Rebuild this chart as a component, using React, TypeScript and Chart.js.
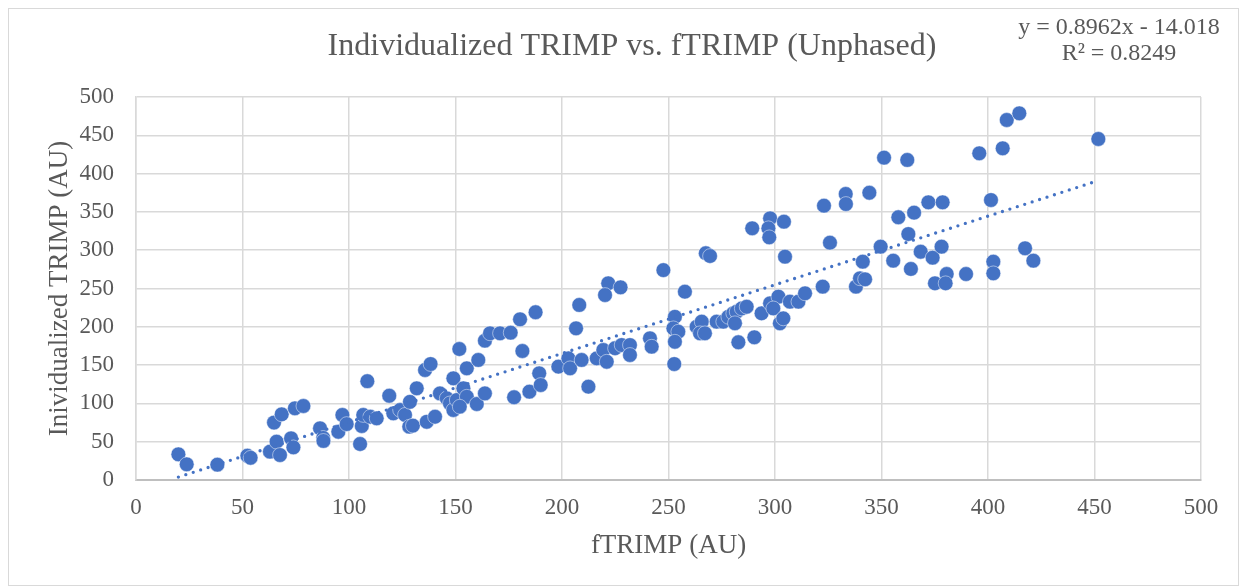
import React, { useEffect, useRef } from 'react';
import { Chart, registerables } from 'chart.js';

Chart.register(...registerables);

const chartTitle = 'Individualized TRIMP vs. fTRIMP (Unphased)';
const xAxisTitle = 'fTRIMP (AU)';
const yAxisTitle = 'Inividualized TRIMP (AU)';
const trendEquation = 'y = 0.8962x - 14.018';
const trendRSquared = 'R² = 0.8249';
const trendSlope = 0.8962;
const trendIntercept = -14.018;

const axisMin = 0;
const axisMax = 500;
const axisStep = 50;

const fTrimp = [
  19.9, 23.8, 38.2, 52.3, 53.8, 62.9, 64.8, 66, 67.6, 68.4, 72.8, 73.9, 74.6, 78.6, 86.4, 87.9, 88, 95, 96.9, 98.9,
  105.2, 106, 106.7, 108.6, 110, 113,
  118.9, 120.8, 124, 126.3, 128.6, 131.8, 128.3, 130, 136.5, 140.4, 135.7, 138.3, 142.7, 145.9, 149, 151.8, 147.4,
  149, 150.6, 153.7, 155.3, 152, 155.3, 160.7, 160, 163.8, 163.8, 166.2, 170.9, 175.9, 180.3, 187.6, 181.4, 177.5,
  184.7, 189.3, 190, 198.3, 203, 203.8, 206.6, 208.1, 212.4, 209.2, 216.3, 219.4, 221, 221.7, 220.2,
  224.9, 228, 231.9, 231.9, 227.5, 241.3, 242.1, 247.6, 257.7, 253, 252.3, 254.6, 253, 252.7, 263.2, 265.6, 264.8,
  267.1, 267.5, 269.5, 272.6, 275.7, 278.1, 280.4, 282, 284.4, 286.7, 281.2, 282.8, 290.3, 293.7, 297.7, 301.6,
  299.2, 302.3, 303.9, 307, 311, 314.1, 289.3, 297.7, 296.9, 297.3, 304.2, 304.7,
  322.4, 323, 325.8, 333.2, 333.3, 344.3, 351.2, 362.1, 338, 339.9, 342.3, 341.2, 349.6, 355.5, 357.9, 362.6, 363.8,
  365.3, 368.4, 372, 374, 378.7, 378.2, 375.1, 380.6, 380.1, 389.7, 395.9, 406.9, 408.8, 414.7, 401.4, 402.5, 402.5,
  417.4, 421.3, 451.8,
];

const individualizedTrimp = [
  33.5, 20.5, 20, 31.7, 29, 37, 75, 50, 32.6, 85.7, 54.4, 42.6, 93.6, 96.6, 67.5, 55, 51, 63, 84.9, 73,
  47, 70.5, 84.9, 129, 82.6, 80.5,
  110, 87, 91.4, 85, 102, 119.7, 69.6, 71, 76, 82.6, 143.6, 151.4, 113, 106.6, 132.7, 171, 100,
  91.4, 104.4, 119.7, 108.7, 95.7, 145.8, 156.7, 99.2, 113, 181.9, 191.5, 191.5, 192.3, 209.8, 219, 168.4, 108,
  115.3, 139.3, 124, 148, 158.8, 145.8, 198, 228.5, 121.8, 156.7, 158.8, 169.7, 154.4, 256.8, 241.5,
  172, 176.2, 176.2, 163.2, 251.5, 185, 174, 274, 245.8, 213, 198, 193.6, 180.5, 151.4, 200, 206.7, 191.5,
  191.5, 296, 292.4, 206.7, 206.7, 213, 217.6, 219.7, 224, 226.2, 204.6, 179.8, 186.3, 217.6, 230.7, 239.3,
  224, 204.6, 211, 232.8, 232.8, 243.7, 328.6, 341.6, 328.6, 316.8, 337.2, 291.5,
  252.4, 358.1, 309.8, 373.4, 360.3, 375, 420.8, 417.8, 252.4, 263.3, 262, 285, 304.6, 286.3, 343, 321.1, 275.5,
  349, 298, 362.5, 290.2, 362.5, 304.6, 256.8, 268.9, 256.8, 268.9, 426.5, 433, 470, 478.7, 365.5, 285, 269.8,
  302.5, 286.3, 445.2,
];

const SERIF = '"Liberation Serif", "Times New Roman", serif';
const TEXT_COLOR = '#595959';

const textPlugin = {
  id: 'excelTexts',
  afterDraw(chart: any) {
    const ctx = chart.ctx as CanvasRenderingContext2D;
    ctx.save();
    ctx.fillStyle = TEXT_COLOR;
    ctx.textAlign = 'center';
    ctx.textBaseline = 'middle';
    ctx.font = `32px ${SERIF}`;
    ctx.fillText(chartTitle, 623, 38);
    ctx.font = `24px ${SERIF}`;
    ctx.fillText(trendEquation, 1110, 19);
    ctx.fillText(trendRSquared, 1110, 45);
    ctx.restore();
  },
};

export default function App() {
  const canvasRef = useRef<HTMLCanvasElement | null>(null);

  useEffect(() => {
    const canvas = canvasRef.current;
    if (!canvas) return;

    const points = fTrimp.map((x, i) => ({ x, y: individualizedTrimp[i] }));
    const minX = Math.min(...fTrimp);
    const maxX = Math.max(...fTrimp);
    const trend = [
      { x: minX, y: trendSlope * minX + trendIntercept },
      { x: maxX, y: trendSlope * maxX + trendIntercept },
    ];

    const chart = new Chart(canvas, {
      type: 'scatter',
      data: {
        datasets: [
          {
            type: 'line',
            label: 'Linear trend',
            data: trend,
            borderColor: '#4472C4',
            borderWidth: 3.3,
            borderDash: [0, 7.8],
            borderCapStyle: 'round',
            pointRadius: 0,
            fill: false,
            order: 0,
          } as any,
          {
            label: 'Sessions',
            data: points,
            backgroundColor: '#4472C4',
            borderColor: 'rgba(255,255,255,0.6)',
            borderWidth: 0.8,
            pointRadius: 7.4,
            order: 1,
          },
        ],
      },
      options: {
        animation: false,
        responsive: false,
        events: [],
        layout: { padding: { left: 0, right: 37, top: 88, bottom: 0 } },
        plugins: {
          legend: { display: false },
          tooltip: { enabled: false },
          title: { display: false },
        },
        scales: {
          x: {
            type: 'linear',
            min: axisMin,
            max: axisMax,
            afterFit: (scale: any) => {
              scale.height = 105;
            },
            ticks: {
              stepSize: axisStep,
              padding: 14,
              color: TEXT_COLOR,
              font: { family: SERIF, size: 23 },
            },
            grid: { color: '#d9d9d9', lineWidth: 1.5, drawTicks: false },
            border: { display: true, color: '#bfbfbf', width: 2 },
            title: {
              display: true,
              text: xAxisTitle,
              color: TEXT_COLOR,
              font: { family: SERIF, size: 27 },
              padding: { top: 0, bottom: 23 },
            },
          },
          y: {
            type: 'linear',
            min: axisMin,
            max: axisMax,
            afterFit: (scale: any) => {
              scale.width = 127;
            },
            ticks: {
              stepSize: axisStep,
              padding: 22,
              color: TEXT_COLOR,
              font: { family: SERIF, size: 23 },
            },
            grid: { color: '#d9d9d9', lineWidth: 1.5, drawTicks: false },
            border: { display: true, color: '#d9d9d9', width: 1.5 },
            title: {
              display: true,
              text: yAxisTitle,
              color: TEXT_COLOR,
              font: { family: SERIF, size: 27 },
              padding: { top: 35, bottom: 0 },
            },
          },
        },
      },
      plugins: [textPlugin],
    });

    return () => chart.destroy();
  }, []);

  return (
    <div
      style={{
        width: 1229,
        height: 576,
        border: '1px solid #d9d9d9',
        background: '#ffffff',
      }}
    >
      <canvas ref={canvasRef} width={1229} height={576} style={{ display: 'block' }} />
    </div>
  );
}
